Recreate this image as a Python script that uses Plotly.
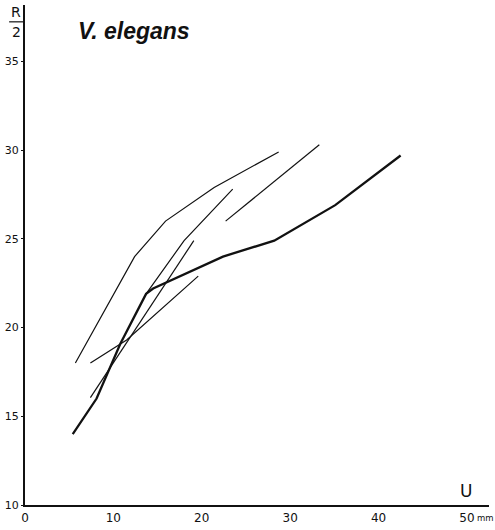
import plotly.graph_objects as go

# Growth curves of V. elegans: U (mm) against R/2
thick_u = [5.4, 8.1, 10.8, 13.7, 14.5, 20.1, 22.4, 28.2, 35.1, 42.5]
thick_r = [14.0, 16.0, 19.1, 21.9, 22.2, 23.5, 24.0, 24.9, 26.9, 29.7]

thin_a_u = [5.7, 12.4, 15.9, 21.4, 28.7]
thin_a_r = [18.0, 24.0, 26.0, 27.9, 29.9]

thin_b_u = [13.7, 18.0, 23.5]
thin_b_r = [21.9, 24.9, 27.8]

thin_c_u = [22.7, 33.3]
thin_c_r = [26.0, 30.3]

thin_d_u = [7.4, 11.5, 19.6]
thin_d_r = [18.0, 19.3, 22.9]

thin_e_u = [7.4, 19.1]
thin_e_r = [16.05, 24.9]

x_ticks = [0, 10, 20, 30, 40, 50]
y_ticks = [10, 15, 20, 25, 30, 35]

thin_series = [
    (thin_a_u, thin_a_r),
    (thin_b_u, thin_b_r),
    (thin_c_u, thin_c_r),
    (thin_d_u, thin_d_r),
    (thin_e_u, thin_e_r),
]

fig = go.Figure()
for u, r in thin_series:
    fig.add_trace(go.Scatter(x=u, y=r, mode="lines",
                             line=dict(color="#111111", width=1.2),
                             showlegend=False, hoverinfo="skip"))
fig.add_trace(go.Scatter(x=thick_u, y=thick_r, mode="lines",
                         line=dict(color="#111111", width=2.3),
                         showlegend=False, hoverinfo="skip"))

fig.update_layout(
    width=495, height=530,
    margin=dict(l=21, r=6, t=5, b=20),
    paper_bgcolor="white", plot_bgcolor="white",
    xaxis=dict(range=[0, 52.5], tickvals=x_ticks,
               ticktext=[str(v) for v in x_ticks],
               showgrid=False, zeroline=False, showline=True,
               linecolor="#111111", linewidth=2,
               ticks="", ticklabelstandoff=1,
               tickfont=dict(family="DejaVu Sans", size=12, color="#111111")),
    yaxis=dict(range=[10, 38.18], tickvals=y_ticks,
               ticktext=[str(v) for v in y_ticks],
               showgrid=False, zeroline=False, showline=True,
               linecolor="#111111", linewidth=2,
               ticks="outside", ticklen=2, tickwidth=1, tickcolor="#111111",
               tickfont=dict(family="DejaVu Sans", size=11, color="#111111"),
               ticklabelstandoff=0),
)

W, H = 468, 505  # plot area size in pixels


def px(x):
    return (x - 21) / W


def py(y):
    return 1 - (y - 5) / H


# Axis titles and species name
fig.add_annotation(text="<b><i>V. elegans</i></b>", xref="paper", yref="paper",
                   x=px(72), y=py(31), xanchor="left", yanchor="middle",
                   showarrow=False,
                   font=dict(family="Liberation Sans", size=23, color="#111111"))
fig.add_annotation(text="U", xref="paper", yref="paper",
                   x=px(466), y=py(496), xanchor="center", yanchor="middle",
                   showarrow=False,
                   font=dict(family="DejaVu Sans", size=17, color="#111111"))
fig.add_annotation(text="mm", xref="paper", yref="paper",
                   x=px(476), y=py(523), xanchor="left", yanchor="middle",
                   showarrow=False, borderpad=0,
                   font=dict(family="DejaVu Sans", size=8.5, color="#111111"))
fig.add_annotation(text="R", xref="paper", yref="paper",
                   x=px(12), y=py(12), xanchor="center", yanchor="middle",
                   showarrow=False,
                   font=dict(family="DejaVu Sans", size=14, color="#111111"))
fig.add_annotation(text="2", xref="paper", yref="paper",
                   x=px(12), y=py(32), xanchor="center", yanchor="middle",
                   showarrow=False,
                   font=dict(family="DejaVu Sans", size=14, color="#111111"))
fig.add_shape(type="line", xref="paper", yref="paper",
              x0=px(5), x1=px(19), y0=py(22), y1=py(22),
              line=dict(color="#111111", width=1.2))

fig.write_html("out.html")
